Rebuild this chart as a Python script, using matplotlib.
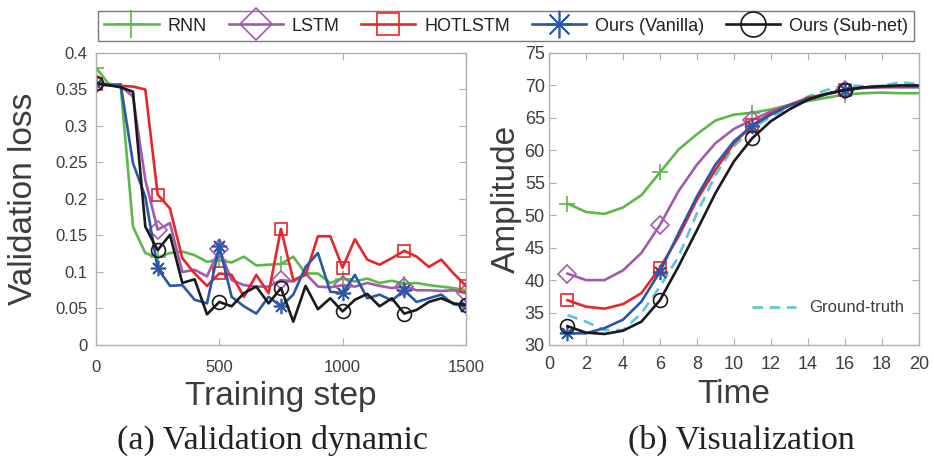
import numpy as np
import matplotlib
matplotlib.use("Agg")
import matplotlib.pyplot as plt

plt.rcParams['font.family'] = ['Liberation Sans', 'DejaVu Sans']

# (a) validation loss, one value every 50 steps
steps = list(range(0, 1501, 50))
loss_rnn = [0.380, 0.358, 0.355, 0.162, 0.126, 0.120, 0.126, 0.128, 0.123, 0.114,
            0.116, 0.113, 0.121, 0.109, 0.110, 0.111, 0.121, 0.098, 0.098, 0.085,
            0.091, 0.087, 0.091, 0.085, 0.088, 0.084, 0.085, 0.082, 0.080, 0.078, 0.075]
loss_lstm = [0.357, 0.356, 0.355, 0.340, 0.226, 0.158, 0.167, 0.100, 0.103, 0.094,
             0.131, 0.089, 0.082, 0.080, 0.080, 0.089, 0.087, 0.098, 0.080, 0.079,
             0.082, 0.080, 0.085, 0.081, 0.078, 0.080, 0.075, 0.075, 0.074, 0.075, 0.071]
loss_hot = [0.357, 0.356, 0.355, 0.354, 0.350, 0.206, 0.187, 0.119, 0.098, 0.081,
            0.098, 0.096, 0.066, 0.096, 0.071, 0.159, 0.089, 0.096, 0.149, 0.149,
            0.106, 0.145, 0.117, 0.110, 0.119, 0.129, 0.121, 0.107, 0.117, 0.098, 0.081]
loss_van = [0.357, 0.356, 0.357, 0.249, 0.203, 0.105, 0.081, 0.082, 0.062, 0.057,
            0.135, 0.066, 0.053, 0.043, 0.066, 0.053, 0.069, 0.107, 0.126, 0.073,
            0.071, 0.096, 0.064, 0.069, 0.061, 0.075, 0.059, 0.064, 0.069, 0.056, 0.053]
loss_sub = [0.359, 0.356, 0.353, 0.347, 0.162, 0.130, 0.151, 0.085, 0.090, 0.042,
            0.059, 0.053, 0.071, 0.080, 0.057, 0.078, 0.032, 0.081, 0.049, 0.064,
            0.046, 0.062, 0.070, 0.053, 0.064, 0.043, 0.048, 0.059, 0.064, 0.057, 0.055]

# (b) visualization
t = list(range(1, 21))
amp_rnn = [51.8, 50.5, 50.2, 51.2, 53.1, 56.6, 60.1, 62.5, 64.6, 65.5,
           65.8, 66.3, 67.0, 67.6, 68.1, 68.6, 68.8, 68.9, 68.8, 68.8]
amp_lstm = [41.0, 40.0, 40.0, 41.5, 44.2, 48.5, 53.7, 57.8, 61.1, 63.3,
            64.7, 66.0, 67.0, 67.9, 68.6, 69.3, 69.6, 69.7, 69.7, 69.7]
amp_hot = [36.9, 35.9, 35.6, 36.3, 38.0, 41.9, 46.7, 52.4, 57.0, 61.1,
           63.9, 65.7, 67.0, 68.1, 68.7, 69.3, 69.7, 69.8, 69.9, 69.9]
amp_van = [31.8, 31.8, 32.6, 33.9, 36.7, 41.3, 47.2, 52.9, 57.8, 61.4,
           63.8, 65.5, 66.9, 67.9, 68.7, 69.3, 69.7, 69.8, 69.9, 69.9]
amp_sub = [32.9, 31.9, 31.7, 32.2, 33.6, 36.9, 42.1, 47.7, 53.4, 58.3,
           61.9, 64.5, 66.3, 67.8, 68.7, 69.3, 69.7, 69.9, 70.0, 70.0]
amp_gt = [34.6, 33.6, 32.3, 32.3, 34.9, 39.0, 43.6, 50.3, 56.2, 60.6,
          63.4, 65.2, 66.5, 68.3, 69.3, 70.0, 69.9, 69.9, 70.5, 70.2]

names = ['RNN', 'LSTM', 'HOTLSTM', 'Ours (Vanilla)', 'Ours (Sub-net)']
colors = ['#5db84a', '#a25aae', '#e8262a', '#2b57a8', '#1a1a1a']
markers = ['+', 'D', 's', (8, 2, 0), 'o']
msizes = [11, 9, 9, 11, 10]

txt = '#3c3c3c'
spine = '#b0b0b0'

fig = plt.figure(figsize=(9.34, 4.69), dpi=100)
ax1 = fig.add_axes([0.1028, 0.2644, 0.396, 0.6226])
ax2 = fig.add_axes([0.5878, 0.2644, 0.396, 0.6226])

handles = []
for ys, c, m, ms, n in zip([loss_rnn, loss_lstm, loss_hot, loss_van, loss_sub],
                            colors, markers, msizes, names):
    h, = ax1.plot(steps, ys, color=c, lw=1.9, marker=m, ms=ms, mfc='none',
                  mec=c, mew=1.2, markevery=5, label=n)
    handles.append(h)

for ys, c, m, ms in zip([amp_rnn, amp_lstm, amp_hot, amp_van, amp_sub],
                        colors, markers, msizes):
    ax2.plot(t, ys, color=c, lw=1.9, marker=m, ms=ms, mfc='none',
             mec=c, mew=1.2, markevery=5)
gt, = ax2.plot(t, amp_gt, color='#5cc6d6', lw=1.9, ls=(0, (4, 2.5)), label='Ground-truth')
gt.set_zorder(1.9)

ax1.set_xlim(0, 1500)
ax1.set_ylim(0, 0.4)
ax1.set_xticks([0, 500, 1000, 1500])
ax1.set_yticks(np.arange(0, 0.401, 0.05))
ax1.set_yticklabels(['0', '0.05', '0.1', '0.15', '0.2', '0.25', '0.3', '0.35', '0.4'])

ax2.set_xlim(0, 20)
ax2.set_ylim(30, 75)
ax2.set_xticks(range(0, 21, 2))
ax2.set_yticks(range(30, 76, 5))

for ax, fs in [(ax1, 12), (ax2, 13)]:
    for s in ax.spines.values():
        s.set_color(spine)
        s.set_linewidth(1.0)
    ax.tick_params(direction='in', top=True, right=True, length=5, width=0.8,
                   color=spine, labelcolor=txt, labelsize=fs)
ax1.tick_params(axis='x', pad=11)
ax1.tick_params(axis='y', pad=6)
ax2.tick_params(axis='x', pad=8)
ax2.tick_params(axis='y', pad=3)

ax1.set_xlabel('Training step', fontsize=24, color=txt, labelpad=4)
ax1.set_ylabel('Validation loss', fontsize=24, color=txt, labelpad=12)
ax2.set_xlabel('Time', fontsize=24, color=txt, labelpad=4)
ax2.set_ylabel('Amplitude', fontsize=24, color=txt, labelpad=2)

ax2.legend(handles=[gt], loc='lower right', frameon=False, fontsize=12,
           handlelength=2.6, bbox_to_anchor=(1.0, 0.05), labelcolor=txt)

leg = fig.legend(handles=handles, loc='upper center', ncol=5, fontsize=13,
                 bbox_to_anchor=(0.542, 0.995), fancybox=False, framealpha=1,
                 edgecolor='#7a7a7a', handlelength=3.0, markerscale=1.8,
                 columnspacing=1.2, handletextpad=0.5, borderpad=0.35)
leg.get_frame().set_linewidth(1.0)
for tx in leg.get_texts():
    tx.set_color('#222222')

fig.text(0.292, 0.062, '(a) Validation dynamic', ha='center', va='center',
         fontsize=24.5, family='Liberation Serif', color='#222222')
fig.text(0.794, 0.062, '(b) Visualization', ha='center', va='center',
         fontsize=24.5, family='Liberation Serif', color='#222222')

fig.savefig('out.png', dpi=100)
